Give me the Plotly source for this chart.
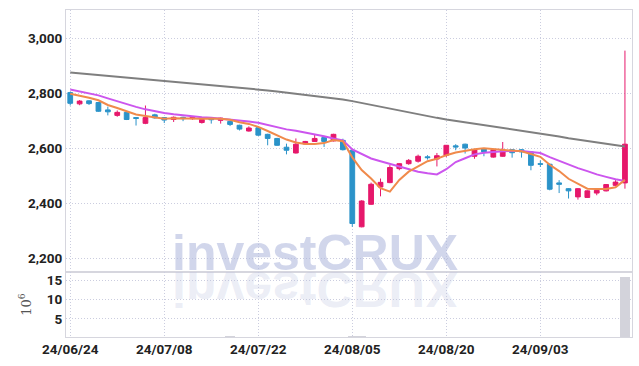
import plotly.graph_objects as go
from plotly.subplots import make_subplots

dates = ["24/06/24", "24/06/25", "24/06/26", "24/06/27", "24/06/28",
         "24/07/01", "24/07/02", "24/07/03", "24/07/04", "24/07/05",
         "24/07/08", "24/07/09", "24/07/10", "24/07/11", "24/07/12",
         "24/07/15", "24/07/16", "24/07/17", "24/07/18", "24/07/19",
         "24/07/22", "24/07/23", "24/07/24", "24/07/25", "24/07/26",
         "24/07/29", "24/07/30", "24/07/31", "24/08/01", "24/08/02",
         "24/08/05", "24/08/06", "24/08/07", "24/08/08", "24/08/09",
         "24/08/12", "24/08/13", "24/08/14", "24/08/16",
         "24/08/19", "24/08/20", "24/08/21", "24/08/22", "24/08/23",
         "24/08/26", "24/08/27", "24/08/28", "24/08/29", "24/08/30",
         "24/09/02", "24/09/03", "24/09/04", "24/09/05", "24/09/06",
         "24/09/09", "24/09/10", "24/09/11", "24/09/12", "24/09/13",
         "24/09/19"]

open_ = [2803, 2762, 2773, 2767, 2740, 2720, 2731, 2712, 2691, 2722,
         2712, 2705, 2713, 2708, 2694, 2711, 2702, 2698, 2684, 2663,
         2675, 2651, 2636, 2604, 2583, 2616, 2625, 2639, 2627, 2629,
         2593, 2314, 2396, 2459, 2475, 2526, 2544, 2553, 2569, 2561,
         2575, 2609, 2615, 2571, 2599, 2568, 2571, 2595, 2595, 2587,
         2544, 2542, 2474, 2453, 2423, 2421, 2437, 2445, 2465, 2474]
high = [2806, 2776, 2775, 2768, 2752, 2738, 2732, 2713, 2756, 2726,
        2714, 2716, 2715, 2716, 2707, 2713, 2712, 2700, 2686, 2680,
        2677, 2653, 2638, 2617, 2636, 2627, 2650, 2641, 2653, 2635,
        2595, 2411, 2475, 2490, 2539, 2546, 2561, 2577, 2575, 2583,
        2612, 2615, 2617, 2597, 2601, 2597, 2623, 2597, 2597, 2589,
        2556, 2544, 2484, 2455, 2455, 2447, 2449, 2470, 2484, 2956]
low = [2756, 2757, 2758, 2733, 2720, 2715, 2703, 2683, 2688, 2708,
       2692, 2696, 2699, 2704, 2690, 2690, 2690, 2681, 2665, 2661,
       2645, 2611, 2609, 2578, 2581, 2613, 2623, 2605, 2625, 2592,
       2314, 2312, 2394, 2425, 2473, 2520, 2540, 2548, 2559, 2534,
       2568, 2593, 2581, 2562, 2571, 2566, 2569, 2566, 2566, 2520,
       2532, 2447, 2437, 2417, 2413, 2419, 2429, 2443, 2463, 2453]
close = [2764, 2772, 2763, 2735, 2733, 2731, 2705, 2709, 2712, 2711,
         2703, 2713, 2708, 2713, 2705, 2704, 2710, 2687, 2670, 2674,
         2648, 2636, 2611, 2593, 2615, 2625, 2636, 2625, 2651, 2595,
         2326, 2408, 2469, 2476, 2530, 2544, 2556, 2571, 2566, 2573,
         2611, 2605, 2601, 2595, 2587, 2595, 2593, 2584, 2587, 2538,
         2542, 2451, 2469, 2445, 2453, 2445, 2447, 2468, 2477, 2615]

ma_short = [2799, 2792, 2784, 2775, 2758, 2747, 2735, 2723, 2718, 2714,
            2708, 2710, 2709, 2710, 2708, 2709, 2708, 2704, 2695, 2689,
            2678, 2663, 2648, 2632, 2621, 2616, 2616, 2619, 2630, 2626,
            2567, 2521, 2490, 2455, 2442, 2485, 2515, 2535, 2553, 2562,
            2575, 2585, 2591, 2597, 2600, 2597, 2594, 2591, 2589, 2579,
            2569, 2540, 2517, 2489, 2472, 2453, 2452, 2452, 2458, 2485]
ma_mid = [2814, 2807, 2800, 2793, 2782, 2771, 2760, 2751, 2742, 2735,
          2729, 2724, 2720, 2716, 2713, 2711, 2708, 2705, 2702, 2698,
          2693, 2685, 2676, 2669, 2664, 2658, 2651, 2644, 2636, 2629,
          2596, 2578, 2563, 2553, 2543, 2535, 2524, 2515, 2509, 2505,
          2524, 2550, 2564, 2578, 2584, 2587, 2589, 2590, 2590, 2587,
          2583, 2568, 2554, 2541, 2528, 2517, 2505, 2496, 2487, 2481]
ma_long = [2876, 2873, 2870, 2868, 2865, 2862, 2859, 2856, 2853, 2849,
           2846, 2843, 2840, 2837, 2834, 2831, 2828, 2825, 2822, 2818,
           2815, 2811, 2807, 2803, 2799, 2795, 2791, 2787, 2783, 2778,
           2772, 2765, 2758, 2751, 2745, 2738, 2731, 2724, 2718, 2711,
           2705, 2700, 2695, 2690, 2685, 2680, 2675, 2669, 2664, 2658,
           2653, 2648, 2643, 2637, 2632, 2627, 2622, 2617, 2612, 2607]

volume_m = [0.22, 0.18, 0.17, 0.2, 0.19, 0.16, 0.18, 0.2, 0.24, 0.15,
            0.16, 0.14, 0.15, 0.13, 0.17, 0.15, 0.16, 0.55, 0.2, 0.17,
            0.19, 0.21, 0.2, 0.24, 0.22, 0.16, 0.18, 0.17, 0.21, 0.25,
            0.62, 0.5, 0.28, 0.2, 0.22, 0.17, 0.16, 0.18, 0.15, 0.19,
            0.22, 0.17, 0.18, 0.2, 0.16, 0.15, 0.21, 0.16, 0.15, 0.22,
            0.18, 0.26, 0.2, 0.19, 0.21, 0.17, 0.15, 0.18, 0.16, 15.8]

tick_dates = ["24/06/24", "24/07/08", "24/07/22", "24/08/05", "24/08/20", "24/09/03"]
price_ticks = [2200, 2400, 2600, 2800, 3000]
volume_ticks = [5, 10, 15]

INC = "#e6186b"
DEC = "#2b93c9"
GRID = "#cbcddf"
FRAME = "#d6d6de"
FONT = "Roboto, Liberation Sans, sans-serif"

fig = make_subplots(rows=2, cols=1, shared_xaxes=True, vertical_spacing=0,
                    row_heights=[0.8015, 0.1985])

fig.add_trace(go.Bar(x=dates, y=volume_m, marker=dict(color="#d3d3db", line=dict(width=0)),
                     showlegend=False, hoverinfo="skip"), row=2, col=1)

fig.add_trace(go.Scatter(x=dates, y=ma_long, mode="lines", line=dict(color="#7f7f7f", width=2),
                         showlegend=False), row=1, col=1)
fig.add_trace(go.Scatter(x=dates, y=ma_mid, mode="lines", line=dict(color="#cc55ee", width=2),
                         showlegend=False), row=1, col=1)
fig.add_trace(go.Scatter(x=dates, y=ma_short, mode="lines", line=dict(color="#f08a4b", width=2),
                         showlegend=False), row=1, col=1)
fig.add_trace(go.Candlestick(x=dates, open=open_, high=high, low=low, close=close,
                             increasing=dict(line=dict(color=INC, width=1), fillcolor=INC),
                             decreasing=dict(line=dict(color=DEC, width=1), fillcolor=DEC),
                             whiskerwidth=0, showlegend=False), row=1, col=1)

axis_common = dict(showgrid=True, gridcolor=GRID, griddash="1px,2px", gridwidth=1,
                   showline=True, linecolor=FRAME, linewidth=1, mirror=True,
                   zeroline=False, ticks="", automargin=False,
                   tickfont=dict(family=FONT, size=13.5, color="#222", weight="bold"))

fig.update_xaxes(type="category", range=[-0.45, 59.75], tickmode="array",
                 tickvals=tick_dates, ticktext=tick_dates, rangeslider=dict(visible=False),
                 **axis_common)
fig.update_xaxes(showticklabels=False, row=1, col=1)
fig.update_yaxes(range=[2149, 3104], tickmode="array", tickvals=price_ticks,
                 tickformat=",", row=1, col=1, **axis_common)
fig.update_yaxes(range=[0.3, 17.2], tickmode="array", tickvals=volume_ticks,
                 title=dict(text="10<sup>6</sup>", standoff=12,
                            font=dict(family="DejaVu Serif", size=13, color="#555")),
                 row=2, col=1, **axis_common)

wm_font = dict(family="Liberation Sans, Arial, sans-serif", size=50, weight="bold")
fig.add_annotation(text="investCRUX", xref="paper", yref="paper", x=0.44, y=0.256,
                   xanchor="center", yanchor="middle", showarrow=False,
                   font=dict(color="rgba(176,184,220,0.58)", **wm_font))
fig.add_annotation(text="investCRUX", xref="paper", yref="paper", x=0.44, y=0.256,
                   xanchor="center", yanchor="middle", showarrow=False,
                   font=dict(color="rgba(190,196,226,0.3)", **wm_font))

fig.update_layout(width=639, height=366, margin=dict(l=66, r=7, t=9.5, b=29, autoexpand=False),
                  paper_bgcolor="white", plot_bgcolor="white", boxgap=0.28,
                  bargap=0.0, showlegend=False, hovermode=False)

post = """
document.body.style.margin = '0';
document.body.style.padding = '0';
document.documentElement.style.overflow = 'hidden';
var gd = document.getElementById('{plot_id}');
var a = gd.querySelector('g.annotation[data-index="1"]');
if (a) {
  var t = a.querySelector('text.annotation-text');
  if (t) {
    var b = parseFloat(t.getAttribute('y'));
    if (isNaN(b)) { var bb = t.getBBox(); b = bb.y + bb.height * 0.8; }
    t.setAttribute('transform', 'translate(0,' + (2 * b + 2) + ') scale(1,-1)');
  }
}
"""
fig.write_html("out.html", post_script=post, config={"displayModeBar": False})
